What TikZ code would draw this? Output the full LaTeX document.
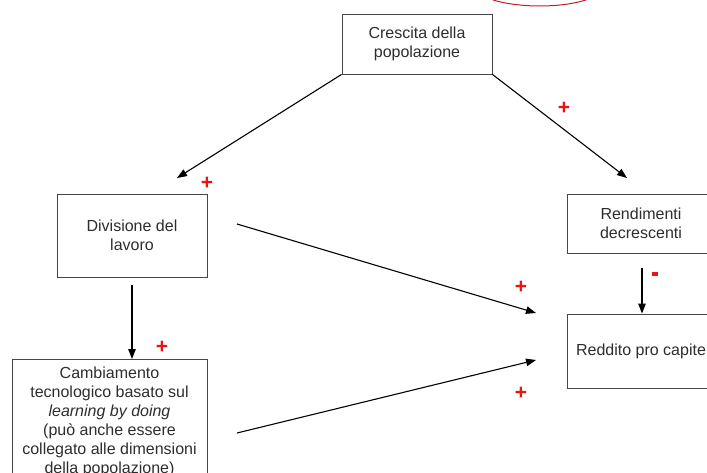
\documentclass[tikz,border=0pt]{standalone}
\usepackage{fontspec}
\setmainfont{Liberation Sans}
\usetikzlibrary{arrows.meta}
\definecolor{txt}{RGB}{45,45,45}
\definecolor{boxline}{RGB}{70,70,70}
\definecolor{sign}{RGB}{235,20,20}
\definecolor{curvered}{RGB}{190,30,40}
\tikzset{
  box/.style={draw=boxline, line width=0.9pt, align=center, text=txt, inner sep=2pt,
    font=\fontsize{16}{19}\selectfont},
  link/.style={line width=1.1pt, -{Triangle[length=10pt,width=7.5pt]}},
  sgn/.style={text=sign, font=\fontsize{21}{21}\selectfont\bfseries, inner sep=0pt}
}
\begin{document}
\begin{tikzpicture}[x=1pt,y=-1pt]
\useasboundingbox (0,0) rectangle (707,473);
\clip (0,0) rectangle (707,473);
% red curve at top
\draw[curvered, line width=1pt] (493,0) .. controls (520,8) and (560,8) .. (586,0);
% boxes
\node[box, minimum width=150pt, minimum height=60pt] (cres) at (417,44) {Crescita della\\popolazione};
\node[box, minimum width=150pt, minimum height=83pt] (div) at (132,235.5) {Divisione del\\lavoro};
\node[box, minimum width=148pt, minimum height=59pt] (rend) at (641,223.5) {Rendimenti\\decrescenti};
\node[box, minimum width=148pt, minimum height=74pt] (redd) at (641,351) {Reddito pro capite};
\node[box, minimum width=195pt, minimum height=124pt, anchor=north] (camb) at (109.5,359)
  {Cambiamento\\tecnologico basato sul\\\textit{learning by doing}\\(può anche essere\\collegato alle dimensioni\\della popolazione)};
% free arrow ends
\coordinate (a1e) at (177,178);
\coordinate (a2e) at (627,178);
\coordinate (a3s) at (237,224);
\coordinate (a3e) at (536,313);
\coordinate (a4s) at (237,433);
\coordinate (a4e) at (536,360);
\coordinate (a5s) at (132,285);
\coordinate (a6s) at (642,268);
% arrows
\draw[link] (cres.south west) -- (a1e);
\draw[link] (cres.south east) -- (a2e);
\draw[link] (a3s) -- (a3e);
\draw[link] (a4s) -- (a4e);
\draw[link] (a5s) -- (camb.north -| a5s);
\draw[link] (a6s) -- (redd.north -| a6s);
% signs
\node[sgn] (p1) at (207,183) {+};
\node[sgn] (p2) at (564,108) {+};
\node[sgn] (p3) at (521,287) {+};
\node[sgn] (p4) at (521,393) {+};
\node[sgn] (p5) at (162,347) {+};
\fill[sign] (652,272.5) rectangle (658,275.5);
\end{tikzpicture}
\end{document}
